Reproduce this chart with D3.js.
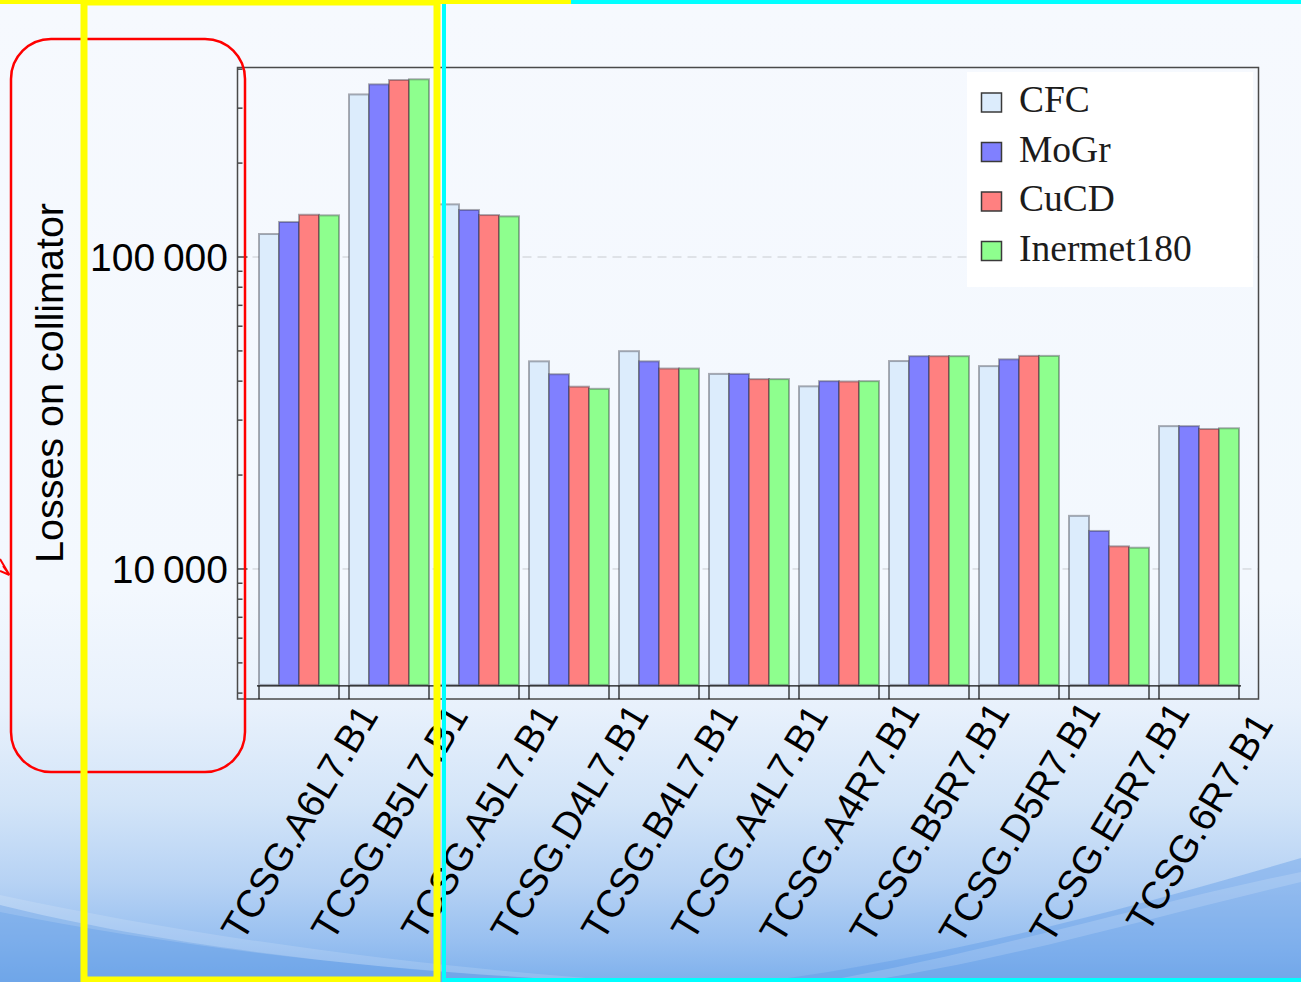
<!DOCTYPE html>
<html>
<head>
<meta charset="utf-8">
<script src="https://cdn.jsdelivr.net/npm/d3@7"></script>
<style>
  html, body { margin: 0; padding: 0; background: #f6f9fe; }
  svg { display: block; }
</style>
</head>
<body>
<svg id="chart" width="1301" height="982"></svg>
<script>
// Collimators (x categories) and jaw materials (series)
const collimators = ["TCSG.A6L7.B1", "TCSG.B5L7.B1", "TCSG.A5L7.B1", "TCSG.D4L7.B1",
  "TCSG.B4L7.B1", "TCSG.A4L7.B1", "TCSG.A4R7.B1", "TCSG.B5R7.B1",
  "TCSG.D5R7.B1", "TCSG.E5R7.B1", "TCSG.6R7.B1"];
const materials = ["CFC", "MoGr", "CuCD", "Inermet180"];

// Losses on each collimator, one array per material
const lossesCFC        = [118500, 332000, 147500, 46300, 49900, 42200, 38500, 46400, 44700, 14800, 28700];
const lossesMoGr       = [129500, 357700, 141500, 42100, 46300, 42200, 40000, 48100, 47000, 13240, 28700];
const lossesCuCD       = [136600, 369300, 136300, 38400, 43900, 40600, 39900, 48100, 48200, 11820, 28100];
const lossesInermet180 = [136000, 371200, 135000, 37800, 43900, 40600, 40000, 48100, 48200, 11700, 28250];

const materialColors = ["#dcecfc", "#8080ff", "#ff8080", "#8eff8e"];

// Labelled decades on the log axis
const yMajorTicks = [10000, 100000];
const yTickLabels = ["10\u2009000", "100\u2009000"];
const yAxisTitle = "Losses on collimator";

const series = [lossesCFC, lossesMoGr, lossesCuCD, lossesInermet180];
const rows = collimators.map((c, i) => ({
  name: c,
  values: materials.map((m, j) => ({ material: m, value: series[j][i], color: materialColors[j] }))
}));

const svg = d3.select("#chart");
const W = 1301, H = 982;

// ---------- slide background ----------
const defs = svg.append("defs");
const bg = defs.append("linearGradient").attr("id", "slideBg")
  .attr("x1", 0).attr("y1", 0).attr("x2", 0).attr("y2", 1);
[[0, "#f6f9fe"], [0.6, "#f3f8fe"], [0.72, "#e8f1fc"], [0.82, "#d2e4f8"],
 [0.9, "#b6d2f4"], [0.96, "#97bff0"], [1, "#7eb0ec"]]
  .forEach(([o, c]) => bg.append("stop").attr("offset", o).attr("stop-color", c));

svg.append("rect").attr("width", W).attr("height", H).attr("fill", "url(#slideBg)");
// soft blue swoosh along the bottom
svg.append("path")
  .attr("d", "M0,905 C180,950 420,975 620,982 L0,982 Z")
  .attr("fill", "#5f9be6").attr("opacity", 0.5);
svg.append("path")
  .attr("d", "M0,895 C200,938 430,968 640,982 L610,982 C400,972 190,950 0,912 Z")
  .attr("fill", "#ffffff").attr("opacity", 0.14);
svg.append("path")
  .attr("d", "M760,982 C960,955 1140,905 1301,858 L1301,982 Z")
  .attr("fill", "#5f9be6").attr("opacity", 0.42);
svg.append("path")
  .attr("d", "M820,982 C1000,950 1160,900 1301,872 L1301,882 C1160,915 1000,962 860,982 Z")
  .attr("fill", "#ffffff").attr("opacity", 0.16);

// ---------- scales ----------
const frame = { left: 237.5, right: 1258.5, top: 67.5, bottom: 699 };
const y = d3.scaleLog().domain([3830, 405000]).range([frame.bottom, frame.top]);
const baseValue = 4250;

const x0 = d3.scaleBand().domain(collimators).range([259, 1239])
  .paddingInner(1 / 9).paddingOuter(0);
const x1 = d3.scaleBand().domain(materials).range([0, x0.bandwidth()]);

const fontSans = "'Liberation Sans', Arial, Helvetica, sans-serif";
const fontSerif = "'Liberation Serif', 'Times New Roman', serif";

// ---------- grid lines at labelled decades ----------
svg.append("g").selectAll("line").data(yMajorTicks).join("line")
  .attr("x1", frame.left).attr("x2", frame.right)
  .attr("y1", d => y(d)).attr("y2", d => y(d))
  .attr("stroke", "#c9ccd0").attr("stroke-width", 1)
  .attr("stroke-dasharray", "9,6");

// ---------- bars ----------
const groups = svg.append("g").selectAll("g").data(rows).join("g")
  .attr("transform", d => `translate(${x0(d.name)},0)`);
groups.selectAll("rect").data(d => d.values).join("rect")
  .attr("x", d => x1(d.material))
  .attr("width", x1.bandwidth())
  .attr("y", d => y(d.value))
  .attr("height", d => y(baseValue) - y(d.value))
  .attr("fill", d => d.color)
  .attr("stroke", "rgba(45,45,55,0.38)")
  .attr("stroke-width", 2);

// ---------- frame and axes ----------
const axisColor = "#4a4a4a";
svg.append("rect")
  .attr("x", frame.left).attr("y", frame.top)
  .attr("width", frame.right - frame.left).attr("height", frame.bottom - frame.top)
  .attr("fill", "none").attr("stroke", axisColor).attr("stroke-width", 1.5);

// category axis line and group edge ticks
const xAxisY = y(baseValue) + 1;
svg.append("line")
  .attr("x1", 257).attr("x2", 1241).attr("y1", xAxisY).attr("y2", xAxisY)
  .attr("stroke", "#111").attr("stroke-width", 1.2);
const edges = [];
collimators.forEach(c => { edges.push(x0(c)); edges.push(x0(c) + x0.bandwidth()); });
svg.append("g").selectAll("line").data(edges).join("line")
  .attr("x1", d => d).attr("x2", d => d)
  .attr("y1", xAxisY).attr("y2", frame.bottom)
  .attr("stroke", "#111").attr("stroke-width", 1.2);

// log-axis ticks, pointing into the plot
const allTicks = y.ticks();
svg.append("g").selectAll("line").data(allTicks).join("line")
  .attr("x1", frame.left).attr("x2", d => frame.left + (yMajorTicks.includes(d) ? 10 : 5))
  .attr("y1", d => y(d)).attr("y2", d => y(d))
  .attr("stroke", axisColor).attr("stroke-width", 1.5);

svg.append("g").selectAll("text").data(yMajorTicks).join("text")
  .attr("x", 228).attr("y", d => y(d)).attr("dy", "0.36em")
  .attr("text-anchor", "end")
  .attr("font-family", fontSans).attr("font-size", 39).attr("fill", "#000")
  .text((d, i) => yTickLabels[i]);

svg.append("text")
  .attr("transform", "translate(63,383) rotate(-90)")
  .attr("text-anchor", "middle")
  .attr("font-family", fontSans).attr("font-size", 39.5).attr("fill", "#000")
  .text(yAxisTitle);

// rotated collimator names
svg.append("g").selectAll("text").data(collimators).join("text")
  .attr("transform", d => `translate(${x0(d) + x0.bandwidth() / 2},822) rotate(-59)`)
  .attr("text-anchor", "middle").attr("dy", "0.36em")
  .attr("font-family", fontSans).attr("font-size", 38.5).attr("fill", "#000")
  .text(d => d);

// ---------- legend ----------
const legend = svg.append("g");
legend.append("rect")
  .attr("x", 967).attr("y", 72).attr("width", 286).attr("height", 215)
  .attr("fill", "#ffffff");
const legendItems = legend.selectAll("g").data(materials).join("g")
  .attr("transform", (d, i) => `translate(0,${112 + i * 49.5})`);
legendItems.append("rect")
  .attr("x", 981.5).attr("y", -19).attr("width", 20).attr("height", 19)
  .attr("fill", (d, i) => materialColors[i])
  .attr("stroke", "#3a3a3a").attr("stroke-width", 1.5);
legendItems.append("text")
  .attr("x", 1019).attr("y", 0)
  .attr("font-family", fontSerif).attr("font-size", 37.5).attr("fill", "#1c1c1c")
  .text(d => d);

// ---------- slide annotations ----------
const ann = svg.append("g");
// red rounded callout around the value axis
ann.append("rect")
  .attr("x", 11).attr("y", 39).attr("width", 234).attr("height", 733)
  .attr("rx", 40).attr("ry", 40)
  .attr("fill", "none").attr("stroke", "#ff0000").attr("stroke-width", 2.5);
ann.append("path")
  .attr("d", "M0,559 L9.5,575 M0,571 L9.5,575 M3,566 L9.5,575")
  .attr("fill", "none").attr("stroke", "#ff0000").attr("stroke-width", 2);

// cyan selection box
ann.append("rect")
  .attr("x", 444).attr("y", 2).attr("width", W - 444 + 4).attr("height", H - 4)
  .attr("fill", "none").attr("stroke", "#00ffff").attr("stroke-width", 4);
// yellow selection box
ann.append("rect")
  .attr("x", 84).attr("y", 2).attr("width", 353).attr("height", H - 4)
  .attr("fill", "none").attr("stroke", "#ffff00").attr("stroke-width", 7);
ann.append("line")
  .attr("x1", 0).attr("x2", 571).attr("y1", 2).attr("y2", 2)
  .attr("stroke", "#ffff00").attr("stroke-width", 4);
</script>
</body>
</html>
